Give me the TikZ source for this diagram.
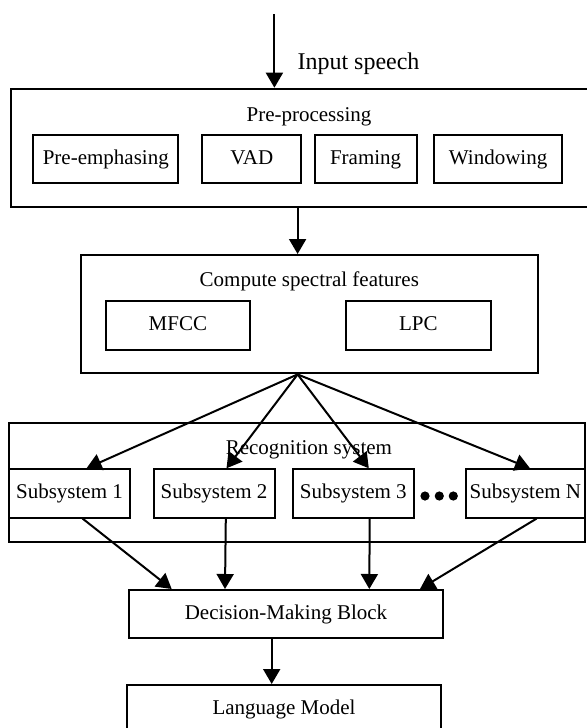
\documentclass[tikz,border=0pt]{standalone}
\usepackage{fontspec}
\setmainfont{Liberation Serif}
\usetikzlibrary{
	arrows.meta,
	positioning,
	calc
}
\tikzset{
	stageBox/.style={
		draw,
		line width=1pt,
		inner sep=0pt
	},
	unitBox/.style={
		draw,
		line width=1pt,
		inner sep=0pt,
		text height=7.4pt,
		text depth=2.4pt,
		font=\fontsize{10.5}{12}\selectfont
	},
	stageTitle/.style={
		inner sep=0pt,
		font=\fontsize{10.5}{12}\selectfont
	},
	flowArrow/.style={
		-{Triangle[length=7.5pt,width=8.5pt]},
		line width=1pt
	}
}

\begin{document}
\begin{tikzpicture}[x=0.5pt,y=-0.5pt]
		\useasboundingbox (0,0) rectangle (587,728);
		\clip (0,0) rectangle (587,728);
		% pre-processing
		\node[stageBox, minimum width=294.5pt, minimum height=59.3pt] (preproc) at (305.5,148) {};
		\node[stageTitle] (preTitle) at (309,116.7) {Pre-processing};
		\node[unitBox, minimum width=72.4pt, minimum height=24.2pt] (preEmph) at (105.8,159.2) {Pre-emphasing};
		\node[unitBox, minimum width=49.6pt, minimum height=24.2pt] (vad) at (251.8,159.2) {VAD};
		\node[unitBox, minimum width=51.1pt, minimum height=24.2pt] (framing) at (365.6,159.2) {Framing};
		\node[unitBox, minimum width=63.8pt, minimum height=24.2pt] (windowing) at (498.1,159.2) {Windowing};
		\coordinate (speechIn) at (274.4,14);
		\node[stageTitle, font=\fontsize{12}{14}\selectfont] (speechLabel) at (358.5,63.3) {Input speech};
		\draw[flowArrow] (speechIn) -- (speechIn |- preproc.north);
		% spectral features
		\node[stageBox, minimum width=228.6pt, minimum height=59.2pt] (compute) at (309.8,314.2) {};
		\node[stageTitle] (computeTitle) at (309.3,281.7) {Compute spectral features};
		\node[unitBox, minimum width=72.2pt, minimum height=24.3pt] (mfcc) at (177.9,325.5) {MFCC};
		\node[unitBox, minimum width=72.2pt, minimum height=24.3pt] (lpc) at (418.3,325.5) {LPC};
		\coordinate (preOut) at ($(preproc.south)+(-7.9,0)$);
		\draw[flowArrow] (preOut) -- (preOut |- compute.north);
		% recognition
		\node[stageBox, minimum width=288.2pt, minimum height=59.2pt] (recog) at (296.8,482.5) {};
		\node[stageTitle] (recogTitle) at (308.9,450) {Recognition system};
		\node[unitBox, minimum width=60.8pt, minimum height=24.1pt] (sub1) at (69.5,493.4) {Subsystem 1};
		\node[unitBox, minimum width=60.5pt, minimum height=24.1pt] (sub2) at (214,493.4) {Subsystem 2};
		\node[unitBox, minimum width=60.5pt, minimum height=24.1pt] (sub3) at (353.3,493.4) {Subsystem 3};
		\node[unitBox, minimum width=59.7pt, minimum height=24.1pt] (subN) at (525.4,493.4) {Subsystem N};
		\foreach \dx in {425,439.3,453.3}{\fill (\dx,496) circle (2.3pt);}
		\coordinate (fan) at ($(compute.south)+(-12.2,0)$);
		\draw[flowArrow] (fan) -- ($(sub1.north)+(17,0)$);
		\draw[flowArrow] (fan) -- ($(sub2.north)+(12.5,0)$);
		\draw[flowArrow] (fan) -- ($(sub3.north)+(15.5,0)$);
		\draw[flowArrow] (fan) -- ($(subN.north)+(4.6,0)$);
		% decision and language model
		\node[unitBox, minimum width=156.7pt, minimum height=24.2pt] (decide) at (286,614.2) {Decision-Making Block};
		\node[unitBox, minimum width=156.7pt, minimum height=24pt] (lang) at (284,709) {Language Model};
		\draw[flowArrow] ($(sub1.south)+(13,0)$) -- ($(decide.north)+(-114.3,0)$);
		\draw[flowArrow] ($(sub2.south)+(11.8,0)$) -- ($(decide.north)+(-61,0)$);
		\draw[flowArrow] ($(sub3.south)+(16.4,0)$) -- ($(decide.north)+(83.3,0)$);
		\draw[flowArrow] ($(subN.south)+(11.3,0)$) -- ($(decide.north)+(134,0)$);
		\coordinate (decideOut) at ($(decide.south)+(-14.3,0)$);
		\draw[flowArrow] (decideOut) -- (decideOut |- lang.north);
	\end{tikzpicture}
\end{document}
